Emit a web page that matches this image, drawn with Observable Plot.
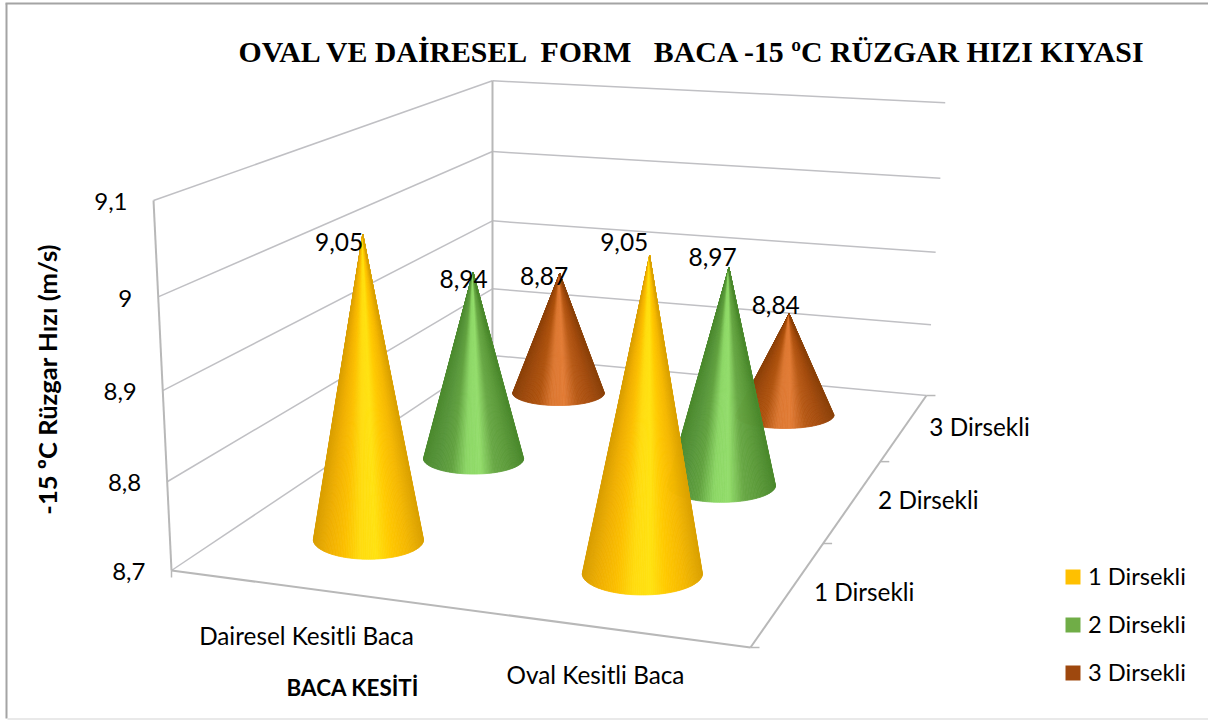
<!DOCTYPE html>
<html>
<head>
<meta charset="utf-8">
<script src="https://cdn.jsdelivr.net/npm/d3@7"></script>
<script src="https://cdn.jsdelivr.net/npm/@observablehq/plot@0.6"></script>
<style>
html,body{margin:0;padding:0;background:#fff;}
svg{display:block;white-space:pre;}
svg g[aria-label="area"]{filter:blur(0.5px);}
svg g[aria-label="link"]{filter:blur(0.25px);}
</style>
</head>
<body>
<div id="chart"></div>
<script>
// ---- data ----
const sections = ["Dairesel Kesitli Baca", "Oval Kesitli Baca"];
const elbows = ["1 Dirsekli", "2 Dirsekli", "3 Dirsekli"];
const dairesel = [9.05, 8.94, 8.87];
const oval = [9.05, 8.97, 8.84];
const valueTicks = [8.7, 8.8, 8.9, 9.0, 9.1];
const titleText = "OVAL VE DAİRESEL  FORM   BACA -15 ºC RÜZGAR HIZI KIYASI";
const yTitle = "-15 ºC Rüzgar Hızı (m/s)";
const xTitle = "BACA KESİTİ";

// ---- styles ----
const swatch = ["#ffc000", "#70ad47", "#9e480e"];
const shades = [
  ["#dba200","#f5b800","#ffc800","#ffe212","#ffdc10","#fcc000","#f0b000","#d89e00"],
  ["#4c8a2e","#5c9a3a","#68a845","#94de6c","#8cd666","#62a240","#56943a","#4c8a2e"],
  ["#8c420a","#a54c0e","#b85a16","#e27c36","#dc7832","#b0540f","#a04a0c","#8c420a"]
];
const font = "Lato, Carlito, sans-serif";

// ---- 3D camera: (u along section axis, v along elbow axis, w along value axis) -> page ----
const cam = {a:512.9,b:502.9,p:-26.1,c:171, d:20,e:-83.7,q:-380.6,f:570, g:-0.0881,h:0.3698,i:-0.0531};
function project(u, v, w) {
  const den = cam.g*u + cam.h*v + cam.i*w + 1;
  return [(cam.a*u + cam.b*v + cam.p*w + cam.c)/den, (cam.d*u + cam.e*v + cam.q*w + cam.f)/den];
}
const [vMin, vMax] = d3.extent(valueTicks);
const W = d3.scaleLinear([vMin, vMax], [0, 1]);
const uOf = i => (i + 0.5) / sections.length;
const vOf = j => (j + 0.5) / elbows.length;
const baseU = 0.105, baseV = 0.07, tipTrim = 0.985;
const fmt = x => d3.format(".2~f")(x).replace(".", ",");

// ---- frame geometry, derived from the ticks ----
const seg = (p, q) => ({x1:p[0], y1:p[1], x2:q[0], y2:q[1]});
const grid = valueTicks.flatMap(t => {
  const w = W(t);
  return [seg(project(0,0,w), project(0,1,w)), seg(project(0,1,w), project(1,1,w))];
});
const edges = [
  seg(project(0,0,0), project(0,0,1)),
  seg(project(0,1,0), project(0,1,1)),
  seg(project(0,0,0), project(1,0,0)),
  seg(project(1,0,0), project(1,1,0))
];
const tickLen = 9;
const ticks = d3.range(elbows.length + 1).map(j => {
  const p = project(1, j/elbows.length, 0);
  return seg(p, [p[0] + tickLen, p[1]]);
});
ticks.push(seg(project(0,0,0), [project(0,0,0)[0], project(0,0,0)[1] + 7]));

// ---- cones: fans of slices between apex and base rim, shaded round the cone ----
const rows = [dairesel, oval];
const cones = [];
elbows.forEach((_, j) => rows.forEach((row, i) => cones.push({i, j, value: row[j]})));
cones.sort((m, n) => n.j - m.j || m.i - n.i);
const N = 90;
function coneSlices(c) {
  const u = uOf(c.i), v = vOf(c.j);
  const [cx, cy] = project(u, v, 0);
  const [ax, ay] = project(u, v, W(c.value) * tipTrim);
  const rx = (project(u + baseU, v, 0)[0] - project(u - baseU, v, 0)[0]) / 2;
  const ry = project(u, v - baseV, 0)[1] - cy;
  const col = d3.scaleLinear(d3.range(8).map(k => k/7), shades[c.j]).interpolate(d3.interpolateRgb);
  const out = [];
  for (let k = 0; k < N; k++) {
    const t0 = Math.PI * (1 - k/N), t1 = Math.PI * (1 - (k+1)/N);
    const id = `${c.i}-${c.j}-${k}`;
    const fill = col((1 + Math.cos(Math.PI - (t0 + t1)/2)) / 2);
    const a = [cx + rx*Math.cos(t0), cy + ry*Math.sin(t0)];
    const b = [cx + rx*Math.cos(t1), cy + ry*Math.sin(t1)];
    out.push({id, fill, x1:ax, y1:ay, x2:ax, y2:ay});
    out.push({id, fill, x1:a[0], y1:a[1], x2:b[0], y2:b[1]});
  }
  return out;
}
const coneMarks = cones.map(c =>
  Plot.area(coneSlices(c), {x1:"x1", y1:"y1", x2:"x2", y2:"y2", z:"id", fill:"fill", stroke:"fill", strokeWidth:0.8})
);

// hand-placed data label nudges, as in the reference
const labelNudge = {"0-0":[-24,13],"0-1":[-10,10],"0-2":[-16,5],"1-0":[-26,-8],"1-1":[-17,-7],"1-2":[-14,-7]};
const labels = cones.map(c => {
  const [ax, ay] = project(uOf(c.i), vOf(c.j), W(c.value));
  const n = labelNudge[`${c.i}-${c.j}`];
  return {x: ax + n[0], y: ay + n[1], text: fmt(c.value)};
});

const valueLabels = valueTicks.map(t => {
  const p = project(0,0,W(t));
  return {x:p[0]-26, y:p[1]+2, text:fmt(t)};
});
const sectionLabels = sections.map((s,i) => {
  const p = project(uOf(i), 0, 0);
  return {x:p[0], y:p[1]+49, text:s};
});
const elbowLabels = elbows.map((s,j) => {
  const p = project(1, vOf(j), 0);
  return {x:p[0]+75, y:p[1]+1, text:s};
});
const legendRows = elbows.map((s,j) => ({label:s, color:swatch[j], x:1072.5, y:576.5+48*j}));

const link = (data, stroke, strokeWidth) => Plot.link(data, {x1:"x1", y1:"y1", x2:"x2", y2:"y2", stroke, strokeWidth});
const txt = (data, size, extra={}) => Plot.text(data, {x:"x", y:"y", text:"text", fontSize:size, fontFamily:font, fill:"#000", ...extra});

const chart = Plot.plot({
  width:1208, height:720, margin:0,
  x:{type:"identity", axis:null}, y:{type:"identity", axis:null},
  color:{type:"identity"},
  style:{background:"#fff", whiteSpace:"pre"},
  marks:[
    Plot.link([{x1:6,y1:3,x2:6,y2:718},{x1:5,y1:3,x2:1208,y2:3}], {x1:"x1", y1:"y1", x2:"x2", y2:"y2", stroke:"#a4a4a4", strokeWidth:2}),
    Plot.link([{x1:7,y1:718.5,x2:1208,y2:718.5}], {x1:"x1", y1:"y1", x2:"x2", y2:"y2", stroke:"#e2e2e2", strokeWidth:1.5}),
    link(grid, "#c0c0c4", 1.5),
    link(edges, "#b8b8b8", 2),
    link(ticks, "#b8b8b8", 1.5),
    ...coneMarks,
    txt(labels, 24.5),
    txt(valueLabels, 24, {textAnchor:"end"}),
    txt(sectionLabels, 24.3),
    txt(elbowLabels, 24.3),
    Plot.dot(legendRows, {x:"x", y:"y", r:8.46, symbol:"square", fill:"color"}),
    Plot.text(legendRows, {x:d=>d.x+15, y:"y", text:"label", textAnchor:"start", fontSize:23.7, fontFamily:font, fill:"#000"}),
    Plot.text([titleText], {x:()=>690.5, y:()=>52, text:d=>d, fontSize:29.8, fontWeight:"bold", fontFamily:"Liberation Serif, serif", fill:"#000"}),
    Plot.text([yTitle], {x:()=>48, y:()=>379, text:d=>d, rotate:-90, fontSize:25.6, fontWeight:"bold", fontFamily:font, fill:"#000"}),
    Plot.text([xTitle], {x:()=>352, y:()=>688, text:d=>d, fontSize:22.4, fontWeight:"bold", fontFamily:font, fill:"#000"})
  ]
});
document.getElementById("chart").appendChild(chart);
</script>
</body>
</html>
